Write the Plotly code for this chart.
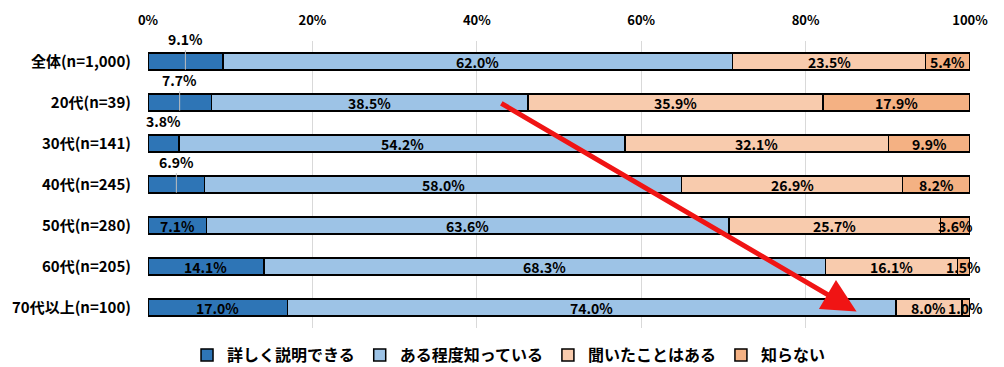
import plotly.graph_objects as go

categories = ["全体(n=1,000)", "20代(n=39)", "30代(n=141)", "40代(n=245)",
              "50代(n=280)", "60代(n=205)", "70代以上(n=100)"]
series_names = ["詳しく説明できる", "ある程度知っている", "聞いたことはある", "知らない"]
detail = [9.1, 7.7, 3.8, 6.9, 7.1, 14.1, 17.0]
somewhat = [62.0, 38.5, 54.2, 58.0, 63.6, 68.3, 74.0]
heard = [23.5, 35.9, 32.1, 26.9, 25.7, 16.1, 8.0]
unknown = [5.4, 17.9, 9.9, 8.2, 3.6, 1.5, 1.0]
tick_vals = [0, 20, 40, 60, 80, 100]
tick_text = ["0%", "20%", "40%", "60%", "80%", "100%"]

colors = ["#2E75B6", "#9DC3E6", "#F8CBAD", "#F4B183"]
FONT = "Noto Sans CJK JP"
lfont = dict(family=FONT, size=14, color="#000000", weight="bold")

# first segment labels of the first four rows are placed above the bar
n_outside = 4

fig = go.Figure()
all_series = [detail, somewhat, heard, unknown]
for name, vals, col in zip(series_names, all_series, colors):
    fig.add_trace(go.Bar(
        y=categories, x=vals, name=name, orientation="h",
        marker=dict(color=col, line=dict(color="#000000", width=1.5)),
        hoverinfo="skip",
    ))

# value labels, centred on each segment
for i in range(len(categories)):
    start = 0.0
    for s, vals in enumerate(all_series):
        v = vals[i]
        xc = start + v / 2
        start += v
        label = f"{v:.1f}%"
        if s == 0 and i < n_outside:
            if i == 2:
                fig.add_annotation(x=xc, y=i - 0.55, xref="x", yref="y",
                                   text=label, showarrow=False, font=lfont)
            else:
                fig.add_annotation(
                    x=xc, y=i + 0.2, xref="x", yref="y",
                    ax=0, ay=-31,
                    text=label, showarrow=True,
                    arrowhead=0, arrowwidth=1, arrowcolor="#BFBFBF", font=lfont,
                )
        else:
            fig.add_annotation(x=xc, y=i, xref="x", yref="y", text=label,
                               showarrow=False, font=lfont)

# red trend arrow
fig.add_annotation(
    x=86.2, y=6.1, xref="x", yref="y",
    ax=42.8, ay=1.0, axref="x", ayref="y",
    text="", showarrow=True, arrowhead=2, arrowsize=1.35,
    arrowwidth=5, arrowcolor="#F01414", standoff=0, startstandoff=0,
)

fig.update_layout(
    barmode="stack", bargap=0.59,
    width=1004, height=367,
    margin=dict(l=148, r=34, t=41, b=39, autoexpand=False),
    paper_bgcolor="#FFFFFF", plot_bgcolor="#FFFFFF",
    font=dict(family=FONT, size=13, color="#000000"),
    legend=dict(orientation="h", x=0.4386, xanchor="center", y=-0.094, yanchor="middle",
                font=dict(family=FONT, size=16, color="#000000", weight="bold"),
                traceorder="normal", itemclick=False, itemwidth=30),
    xaxis=dict(side="top", range=[0, 100], tickvals=tick_vals, ticktext=tick_text,
               showgrid=True, gridcolor="#D9D9D9", gridwidth=1, zeroline=False,
               showline=False, ticks="", ticklabelstandoff=12, automargin=False,
               tickfont=dict(family=FONT, size=13, weight="bold")),
    yaxis=dict(range=[len(categories) - 0.5, -0.5], showgrid=False, zeroline=False,
               showline=False, ticks="", ticklabelstandoff=16, automargin=False,
               tickfont=dict(family=FONT, size=15, weight="bold")),
    showlegend=True,
)

fig.write_html("out.html", config={"displayModeBar": False},
               post_script="document.body.style.margin='0';")
